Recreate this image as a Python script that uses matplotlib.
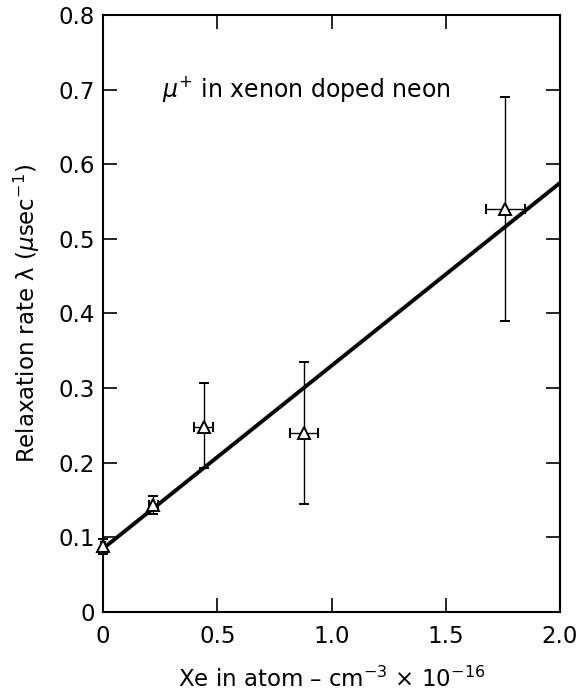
import numpy as np
import matplotlib.pyplot as plt

# measured points (Xe density x 1e16, relaxation rate)
xe = [0.0, 0.22, 0.44, 0.88, 1.76]
xe_err = [0.01, 0.02, 0.04, 0.06, 0.085]
rate = [0.088, 0.143, 0.248, 0.240, 0.540]
rate_lo = [0.078, 0.131, 0.193, 0.145, 0.390]
rate_hi = [0.098, 0.155, 0.307, 0.335, 0.690]

# fitted straight line
fit_x = [0.0, 2.0]
fit_y = [0.085, 0.575]

xticks = [0, 0.5, 1.0, 1.5, 2.0]
xticklabels = ['0', '0.5', '1.0', '1.5', '2.0']
yticks = [0, 0.1, 0.2, 0.3, 0.4, 0.5, 0.6, 0.7, 0.8]
yticklabels = ['0', '0.1', '0.2', '0.3', '0.4', '0.5', '0.6', '0.7', '0.8']

if __name__ == "__main__":
    plt.rcParams['font.family'] = ['DejaVu Sans']
    fig = plt.figure(figsize=(5.81, 7.0), dpi=100)
    ax = fig.add_axes([0.1773, 0.1257, 0.7866, 0.8529])

    ax.plot(fit_x, fit_y, color='black', lw=2.8, solid_capstyle='butt', zorder=2)

    yerr = [np.array(rate) - np.array(rate_lo), np.array(rate_hi) - np.array(rate)]
    ax.errorbar(xe, rate, xerr=xe_err, yerr=yerr, fmt='^', mfc='white', mec='black',
                mew=1.4, ms=8, ecolor='black', elinewidth=1.0, capsize=3.8, capthick=1.4,
                zorder=3, clip_on=False)

    ax.text(0.26, 0.69, r'$\mu^{+}$ in xenon doped neon', fontsize=17)

    ax.set_xlim(0, 2.0)
    ax.set_ylim(0, 0.8)
    ax.set_xticks(xticks)
    ax.set_xticklabels(xticklabels)
    ax.set_yticks(yticks)
    ax.set_yticklabels(yticklabels)
    ax.tick_params(direction='in', length=10, width=1.2, labelsize=16.5,
                   top=True, right=True)
    ax.tick_params(axis='x', pad=9)
    ax.tick_params(axis='y', pad=6)
    for s in ax.spines.values():
        s.set_linewidth(1.5)

    ax.set_xlabel(r'Xe in atom – cm$^{-3}$ $\times$ 10$^{-16}$', fontsize=16.5, labelpad=14)
    ax.set_ylabel(r'Relaxation rate λ ($\mu$sec$^{-1}$)', fontsize=16.5, labelpad=12)

    fig.savefig('out.png', dpi=100)
